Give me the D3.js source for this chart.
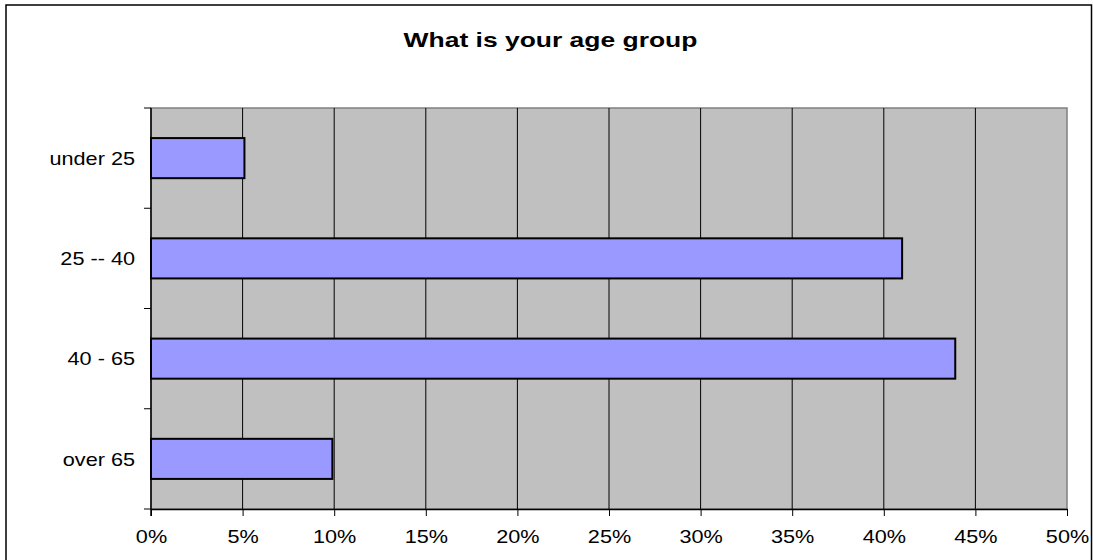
<!DOCTYPE html>
<html>
<head>
<meta charset="utf-8">
<script src="https://cdn.jsdelivr.net/npm/d3@7"></script>
<style>
  body { margin: 0; background: #fff; }
  text { font-family: "Liberation Sans", Arial, sans-serif; fill: #000; }
</style>
</head>
<body>
<svg id="chart"></svg>
<script>
const chartTitle = "What is your age group";
const categories = ["under 25", "25 -- 40", "40 - 65", "over 65"];
const values = [5.1, 41, 43.9, 9.9]; // percent
const xTicks = [0, 5, 10, 15, 20, 25, 30, 35, 40, 45, 50];

const width = 1093;
const height = 560;
const marginLeft = 151; // plot area left
const marginRight = 26;
const marginTop = 108;
const marginBottom = 51;

const svg = d3.select("#chart")
  .attr("width", width)
  .attr("height", height)
  .attr("viewBox", [0, 0, width, height]);

// stretch text horizontally (the reference rendering is wider than normal)
const stretch = (sel, k) => sel.each(function () {
  const len = this.getComputedTextLength();
  d3.select(this).attr("textLength", len * k).attr("lengthAdjust", "spacingAndGlyphs");
});

// outer chart border
svg.append("rect")
  .attr("x", 6).attr("y", 5)
  .attr("width", width - 7.5).attr("height", height + 10)
  .attr("fill", "#fff")
  .attr("stroke", "#000").attr("stroke-width", 1.5);

const x = d3.scaleLinear().domain([0, 50]).range([marginLeft, width - marginRight]);
const y = d3.scaleBand().domain(categories)
  .range([marginTop, height - marginBottom])
  .paddingInner(0.6).paddingOuter(0.3);
const yBand = d3.scaleBand().domain(categories).range([marginTop, height - marginBottom]);

// plot area
svg.append("rect")
  .attr("x", x(0)).attr("y", marginTop)
  .attr("width", x(50) - x(0)).attr("height", height - marginBottom - marginTop)
  .attr("fill", "#c0c0c0")
  .attr("stroke", "#808080").attr("stroke-width", 1.5);

// gridlines
svg.append("g")
  .selectAll("line")
  .data(xTicks.filter(d => d > 0 && d < 50))
  .join("line")
  .attr("x1", d => x(d)).attr("x2", d => x(d))
  .attr("y1", marginTop).attr("y2", height - marginBottom)
  .attr("stroke", "#000").attr("stroke-width", 1);

// bars
svg.append("g")
  .selectAll("rect")
  .data(categories)
  .join("rect")
  .attr("x", x(0))
  .attr("y", d => y(d))
  .attr("width", (d, i) => x(values[i]) - x(0))
  .attr("height", y.bandwidth())
  .attr("fill", "#9999ff")
  .attr("stroke", "#000").attr("stroke-width", 2);

// x axis
const xAxis = d3.axisBottom(x)
  .tickValues(xTicks)
  .tickFormat(d => d + "%")
  .tickSizeInner(7).tickSizeOuter(0).tickPadding(14);

svg.append("g")
  .attr("transform", `translate(0,${height - marginBottom})`)
  .call(xAxis)
  .call(g => g.select(".domain").attr("stroke", "#000").attr("stroke-width", 1.5))
  .call(g => g.selectAll(".tick line").attr("stroke", "#000"))
  .call(g => g.selectAll(".tick text")
    .attr("font-size", 19)
    .attr("font-family", "Liberation Sans, Arial, sans-serif")
    .attr("fill", "#000")
    .call(stretch, 1.14));

// y axis: ticks at category boundaries
const yBounds = [marginTop].concat(categories.map(c => yBand(c) + yBand.bandwidth()));
svg.append("g")
  .selectAll("line")
  .data(yBounds)
  .join("line")
  .attr("x1", x(0) - 7).attr("x2", x(0))
  .attr("y1", d => d).attr("y2", d => d)
  .attr("stroke", "#000");

svg.append("line")
  .attr("x1", x(0)).attr("x2", x(0))
  .attr("y1", marginTop).attr("y2", height - marginBottom + 7)
  .attr("stroke", "#000").attr("stroke-width", 1.5);

svg.append("g")
  .selectAll("text")
  .data(categories)
  .join("text")
  .attr("x", x(0) - 16)
  .attr("y", d => yBand(d) + yBand.bandwidth() / 2)
  .attr("dy", "0.35em")
  .attr("text-anchor", "end")
  .attr("font-size", 19)
  .text(d => d)
  .call(stretch, 1.14);

// title
svg.append("text")
  .attr("x", 550.5)
  .attr("y", 47)
  .attr("text-anchor", "middle")
  .attr("font-size", 20.5)
  .attr("font-weight", "bold")
  .text(chartTitle)
  .call(stretch, 1.29);
</script>
</body>
</html>
